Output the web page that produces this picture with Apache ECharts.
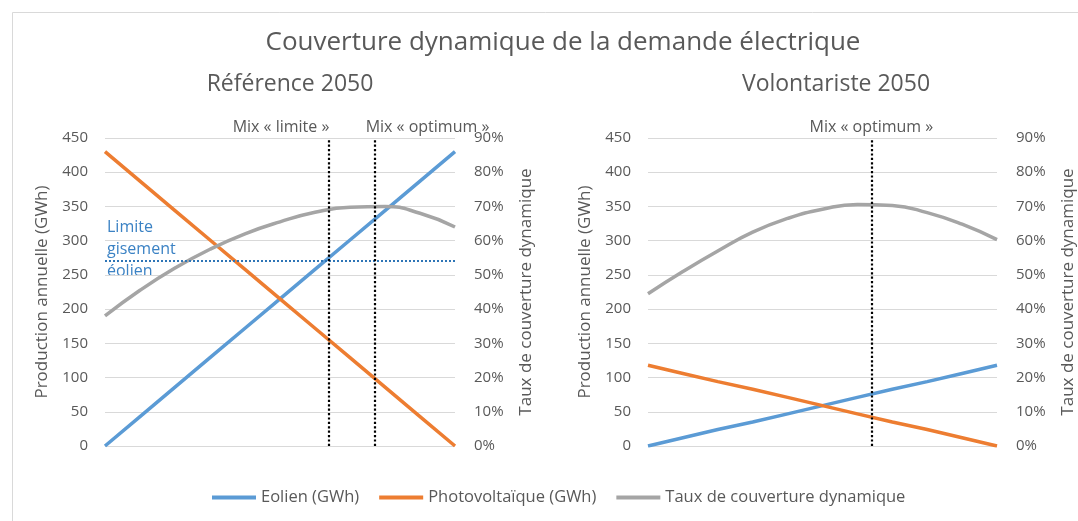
<!DOCTYPE html>
<html>
<head>
<meta charset="utf-8">
<script src="https://cdn.jsdelivr.net/npm/echarts@6/dist/echarts.min.js"></script>
<style>
  html, body { margin: 0; padding: 0; background: #fff; }
  #chart { width: 1078px; height: 521px; }
</style>
</head>
<body>
<div id="chart"></div>
<script>
// part de l'éolien dans le mix (axe x, sans étiquettes)
var xShare = [0, 0.1, 0.2, 0.3, 0.4, 0.5, 0.6, 0.7, 0.8, 0.9, 1];

// Référence 2050
var eolienRef = [0, 43, 86, 129, 172, 215, 258, 301, 344, 387, 430];
var pvRef = [430, 387, 344, 301, 258, 215, 172, 129, 86, 43, 0];
var tauxRef = [38, 45.5, 52, 57.5, 62, 65.5, 68.3, 69.8, 70, 68, 64];
var limiteEolien = 270;
var mixLimiteRef = 0.635;
var mixOptimumRef = 0.765;

// Volontariste 2050
var eolienVol = [0, 12, 24, 35, 47, 59, 71, 83, 94, 106, 118];
var pvVol = [118, 106, 94, 83, 71, 59, 47, 35, 24, 12, 0];
var tauxVol = [44.5, 51, 57, 62.5, 66.5, 69.2, 70.6, 70.3, 68.2, 64.8, 60.3];
var mixOptimumVol = 0.636;

var leftTicks = { min: 0, max: 450, interval: 50 };
var rightTicks = { min: 0, max: 90, interval: 10 };

var FONT = 'Open Sans';
var TXT = '#595959';
var BLUE = '#5B9BD5', ORANGE = '#ED7D31', GREY = '#A5A5A5';

function pairs(xs, ys) {
  var out = [];
  for (var i = 0; i < xs.length; i++) out.push([xs[i], ys[i]]);
  return out;
}

function xAxisFor(idx) {
  return {
    type: 'value', gridIndex: idx, min: 0, max: 1,
    axisLine: { show: false }, axisTick: { show: false },
    axisLabel: { show: false }, splitLine: { show: false }
  };
}
function yLeft(idx) {
  return {
    type: 'value', gridIndex: idx, position: 'left',
    min: leftTicks.min, max: leftTicks.max, interval: leftTicks.interval,
    name: 'Production annuelle (GWh)', nameLocation: 'middle', nameGap: 54, nameRotate: 90,
    nameTextStyle: { color: TXT, fontSize: 17, fontFamily: FONT },
    axisLine: { show: false }, axisTick: { show: false },
    axisLabel: { color: TXT, fontSize: 15, fontFamily: FONT, margin: 17 },
    splitLine: { lineStyle: { color: '#D9D9D9', width: 1 } }
  };
}
function yRight(idx) {
  return {
    type: 'value', gridIndex: idx, position: 'right',
    min: rightTicks.min, max: rightTicks.max, interval: rightTicks.interval,
    name: 'Taux de couverture dynamique', nameLocation: 'middle', nameGap: 63, nameRotate: 90,
    nameTextStyle: { color: TXT, fontSize: 17, fontFamily: FONT },
    axisLine: { show: false }, axisTick: { show: false },
    axisLabel: { color: TXT, fontSize: 15, fontFamily: FONT, margin: 19, formatter: '{value}%' },
    splitLine: { show: false }
  };
}
function mixLine(x, text, dx) {
  return {
    xAxis: x,
    label: { show: true, position: 'end', formatter: text, offset: [dx, 0],
             color: TXT, fontSize: 16, fontFamily: FONT, distance: 3 }
  };
}

var myChart = echarts.init(document.getElementById('chart'));
var option = {
  backgroundColor: '#fff',
  animation: false,
  title: [
    { text: 'Couverture dynamique de la demande électrique', left: 558, top: 25, textAlign: 'center',
      textStyle: { color: TXT, fontSize: 26, fontWeight: 'normal', fontFamily: FONT } },
    { text: 'Référence 2050', left: 285, top: 68, textAlign: 'center',
      textStyle: { color: TXT, fontSize: 23, fontWeight: 'normal', fontFamily: FONT } },
    { text: 'Volontariste 2050', left: 831, top: 68, textAlign: 'center',
      textStyle: { color: TXT, fontSize: 23, fontWeight: 'normal', fontFamily: FONT } }
  ],
  legend: {
    bottom: 10, left: 207, itemWidth: 44, itemHeight: 4, itemGap: 20,
    icon: 'rect',
    textStyle: { color: TXT, fontSize: 16.5, fontFamily: FONT },
    data: ['Eolien (GWh)', 'Photovoltaïque (GWh)', 'Taux de couverture dynamique']
  },
  grid: [
    { left: 105, right: 623, top: 138, bottom: 75 },
    { left: 648, right: 78, top: 138, bottom: 75 }
  ],
  xAxis: [xAxisFor(0), xAxisFor(1)],
  yAxis: [yLeft(0), yRight(0), yLeft(1), yRight(1)],
  graphic: [
    { type: 'rect', shape: { x: 12.5, y: 12.5, width: 1200, height: 700 }, silent: true,
      style: { fill: 'none', stroke: '#D9D9D9', lineWidth: 1 } },
    { type: 'text', left: 107, top: 216,
      style: { text: 'Limite\ngisement\néolien', fill: '#3B82C4', fontSize: 16,
               fontFamily: FONT, lineHeight: 22 } }
  ],
  series: [
    { name: 'Eolien (GWh)', type: 'line', xAxisIndex: 0, yAxisIndex: 0,
      data: pairs(xShare, eolienRef), showSymbol: false, color: BLUE,
      lineStyle: { width: 3.5 },
      markLine: {
        silent: true, symbol: 'none', animation: false,
        lineStyle: { color: '#2E75B6', type: 'dotted', width: 2 },
        label: { show: false },
        data: [{ yAxis: limiteEolien }]
      } },
    { name: 'Photovoltaïque (GWh)', type: 'line', xAxisIndex: 0, yAxisIndex: 0,
      data: pairs(xShare, pvRef), showSymbol: false, color: ORANGE,
      lineStyle: { width: 3.5 },
      markLine: {
        silent: true, symbol: 'none', animation: false,
        lineStyle: { color: '#000', type: 'dotted', width: 2.2 },
        data: [mixLine(mixLimiteRef, 'Mix « limite »', -48), mixLine(mixOptimumRef, 'Mix « optimum »', 53)]
      } },
    { name: 'Taux de couverture dynamique', type: 'line', xAxisIndex: 0, yAxisIndex: 1,
      data: pairs(xShare, tauxRef), showSymbol: false, smooth: true, color: GREY,
      lineStyle: { width: 3.5 } },

    { name: 'Eolien (GWh)', type: 'line', xAxisIndex: 1, yAxisIndex: 2,
      data: pairs(xShare, eolienVol), showSymbol: false, color: BLUE,
      lineStyle: { width: 3.5 } },
    { name: 'Photovoltaïque (GWh)', type: 'line', xAxisIndex: 1, yAxisIndex: 2,
      data: pairs(xShare, pvVol), showSymbol: false, color: ORANGE,
      lineStyle: { width: 3.5 },
      markLine: {
        silent: true, symbol: 'none', animation: false,
        lineStyle: { color: '#000', type: 'dotted', width: 2.2 },
        data: [mixLine(mixOptimumVol, 'Mix « optimum »', 0)]
      } },
    { name: 'Taux de couverture dynamique', type: 'line', xAxisIndex: 1, yAxisIndex: 3,
      data: pairs(xShare, tauxVol), showSymbol: false, smooth: true, color: GREY,
      lineStyle: { width: 3.5 } }
  ]
};
myChart.setOption(option);
</script>
</body>
</html>
